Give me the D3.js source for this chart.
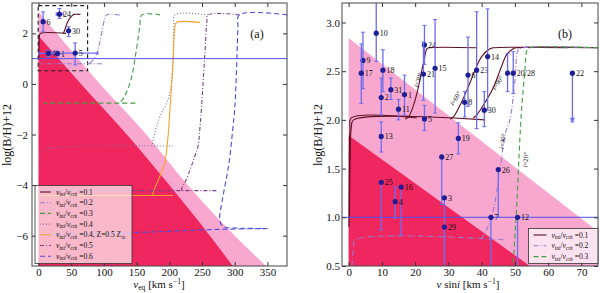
<!DOCTYPE html>
<html>
<head>
<meta charset="utf-8">
<script src="https://cdn.jsdelivr.net/npm/d3@7"></script>
<style>
  body { margin: 0; background: #fff; }
  svg { display: block; }
  text { font-family: "Liberation Serif", "DejaVu Serif", serif; fill: #111; }
</style>
</head>
<body>
<svg id="chart" width="600" height="293"></svg>
<script>
// ---- panel (a): v_eq vs log(B/H)+12 ----
var aTicksX = [0, 50, 100, 150, 200, 250, 300, 350];
var aTicksY = [-6, -4, -2, 0, 2];
var aDarkEdge = [[0, 1.9], [65, 0], [135, -2], [200, -4], [262, -6], [297, -7.2]];
var aPinkEdge = [[0, 2.85], [94, 0], [165, -2], [228, -4], [300, -6], [348, -7.2]];
var aZoomBox = [[-0.5, 0.52], [75, 3.1]];

var aTrackKeys = ["0.1", "0.2", "0.3", "0.4", "0.4z", "0.5", "0.6"];
var aTrackCurves = [
  [[64, 2.75], [54.5, 2.75], [52, 2.71], [48, 2.6], [44, 2.42], [41, 2.2], [39, 2.06], [38, 2.01]],
  [[124, 2.73], [104, 2.73], [101.5, 2.6], [99.5, 2.4], [94.5, 1.75], [89, 1.2], [82, 0.9], [76, 0.8]],
  [[186, 2.73], [158, 2.73], [155, 2.3], [152.7, 1.87], [147.6, 1.02], [142.6, 0.29], [135, -0.3], [127.4, -0.66], [122, -0.76]],
  [[259, 2.73], [208.5, 2.73], [207, 2.3], [203.5, 0.03], [196, -0.76], [188, -1.15], [180.6, -1.68], [175.5, -2.2], [173, -2.46]],
  [[247, 2.43], [211, 2.43], [208.5, 2.26], [206, 1.02], [201, -1.02], [198.3, -2.0], [196, -2.6], [193, -3.12], [185.7, -3.65], [178, -4.1], [174.6, -4.34], [176, -4.41]],
  [[307, 2.73], [259, 2.73], [257.5, 2.5], [254, 1.02], [249, -1.02], [246.6, -1.8], [244, -2.46], [239, -2.86], [226, -3.78], [218.7, -4.17], [220, -4.22]],
  [[380, 2.73], [307, 2.73], [305, 2.2], [303.4, 1.02], [300, -1.02], [297, -1.8], [292, -3.0], [287, -3.78], [281, -4.6], [277, -5.35], [280, -5.58], [288, -5.68], [300, -5.7], [350, -5.72]]
];
var aTrackBases = [
  [[42, 2.0], [3, 2.0], [1.5, 1.92], [0.8, 1.5], [0.5, 1.0]],
  [[97, 0.8], [3, 0.8]],
  [[148, -0.76], [8, -0.76]],
  [[205, -2.46], [5, -2.62], [2, -2.8], [1.5, -3.5]],
  [[206, -4.41], [0, -4.41]],
  [[272, -4.22], [2, -4.22]],
  [[350, -5.72], [277, -5.75], [155, -5.87], [0, -5.97]]
];

var aStarNames = ["6", "24", "30", "4", "1", "5"];
var aStarV = [7, 32, 46, 15, 29, 56];
var aStarB = [2.46, 2.76, 2.1, 1.21, 1.2, 1.22];
var aStarBLo = [2.06, 2.59, 1.87, 1.08, 1.1, 0.75];
var aStarBHi = [2.85, 2.98, 2.26, 1.34, 1.3, 1.62];
var aStarVLo = [7, 27, 46, 0, 20, 38];
var aStarVHi = [7, 38, 46, 22, 38, 91];

// ---- panel (b): v sin i vs log(B/H)+12 ----
var bTicksX = [0, 10, 20, 30, 40, 50, 60, 70];
var bTicksY = [0.5, 1.0, 1.5, 2.0, 2.5, 3.0];
var bDarkEdge = [[0, 1.84], [54.5, 0.5]];
var bPinkEdge = [[0, 2.84], [75, 0.855]];

var bCurveKeys = ["0.1", "0.1", "0.1", "0.1", "0.1", "0.2", "0.2", "0.3"];
var bCurves = [
  [[75, 2.74], [50.5, 2.74], [49.5, 2.73], [47.5, 2.67], [46, 2.55], [43.5, 2.33], [40.5, 2.15], [38.5, 2.05], [37.5, 2.02]],
  [[66, 2.74], [43.5, 2.74], [42.5, 2.73], [40, 2.65], [38, 2.51], [36, 2.34], [33.5, 2.15], [31.5, 2.03], [30.5, 2.01]],
  [[38.5, 2.74], [24.2, 2.74], [23.5, 2.73], [22.7, 2.61], [22, 2.51], [21, 2.34], [19.7, 2.17], [18, 2.03], [17, 2.01]],
  [[41, 2.0], [1.5, 2.0], [0.8, 1.92], [0.45, 1.6], [0.25, 1.0]],
  [[20.5, 2.02], [0.8, 2.02], [0.4, 1.9], [0.2, 1.4], [0.1, 0.9]],
  [[75, 2.74], [52, 2.74], [51, 2.72], [50, 2.4], [48.5, 2.0], [47, 1.85], [45.5, 1.48], [43, 1.0], [41, 0.84], [40, 0.78]],
  [[46.5, 0.77], [2, 0.77], [1.5, 0.7], [1, 0.5]],
  [[75, 2.74], [54.5, 2.74], [53.7, 2.72], [53, 2.5], [52, 2.1], [51.5, 1.8], [50.5, 1.08], [49.9, 0.75], [49.5, 0.5]]
];
var bIncText = ["30", "60", "90", "30", "20"];
var bIncAt = [[21, 2.41], [32.2, 2.22], [44.9, 2.38], [46.4, 1.78], [53.3, 1.59]];
var bIncRot = [-72, -58, -58, -80, -85];

var bStarNames = ["10", "9", "17", "18", "2", "31", "1", "11", "24", "21", "15", "5", "13", "19", "6", "8", "23", "14", "30", "", "20/28", "22", "27", "25", "16", "4", "3", "29", "26", "7", "12"];
var bStarV = [8.3, 4.3, 3.8, 10.3, 9.8, 12.7, 16.8, 15, 22.8, 22.5, 26, 22.8, 9.8, 33, 35.9, 34.9, 38.5, 41.8, 40.8, 47.8, 49.5, 67.3, 28, 9.8, 15.8, 14, 28.8, 28.8, 45, 42.8, 50.8];
var bStarB = [2.89, 2.61, 2.48, 2.51, 2.23, 2.31, 2.26, 2.11, 2.77, 2.47, 2.53, 2.01, 1.83, 1.81, 2.46, 2.18, 2.51, 2.65, 2.10, 2.48, 2.48, 2.48, 1.62, 1.36, 1.31, 1.16, 1.20, 0.90, 1.49, 1.00, 1.00];
var bStarLo = [2.60, 2.32, 2.17, 2.29, 2.05, 2.21, 2.05, 2.00, 2.57, 2.20, 2.07, 1.89, 1.67, 1.65, 2.14, 2.03, 1.91, 2.10, 1.93, 2.29, 2.27, 1.98, 1.13, 0.87, 0.82, 0.99, 0.3, 0.3, 1.0, 0.3, 0.3];
var bStarHi = [3.30, 2.90, 2.78, 2.72, 2.43, 2.43, 2.46, 2.21, 2.97, 2.80, 3.03, 2.15, 1.98, 1.97, 2.85, 2.29, 3.11, 3.14, 2.29, 2.68, 2.70, 2.48, 1.62, 1.36, 1.31, 1.31, 1.20, 0.90, 1.49, 1.00, 1.00];
var bUpperLimit = ["22"];

var trackStyle = {
  "0.1": { color: "#5e1024", dash: null, label: "0.1" },
  "0.2": { color: "#9a7ad0", dash: "5,2,1,2", label: "0.2" },
  "0.3": { color: "#3f9e3f", dash: "5,3", label: "0.3" },
  "0.4": { color: "#8a6a9e", dash: "1,2", label: "0.4" },
  "0.4z": { color: "#f4a32a", dash: null, label: "0.4, Z=0.5 Z" },
  "0.5": { color: "#7d3d8c", dash: "4,2,1,2", label: "0.5" },
  "0.6": { color: "#4b4bd8", dash: "5,3", label: "0.6" }
};

var darkFill = "#f0265e", pinkFill = "#f8a8cf";
var barColor = "#6c6cf0", dotColor = "#1e1e96", refColor = "#5050ea";

var svg = d3.select("#chart");
var defs = svg.append("defs");

var ax = d3.scaleLinear().domain([-10, 380]).range([32, 287]);
var ay = d3.scaleLinear().domain([-7.2, 3.2]).range([266, 3]);
var bx = d3.scaleLinear().domain([-2, 75]).range([342, 598]);
var by = d3.scaleLinear().domain([0.5, 3.2]).range([266, 3]);

function clipFor(id, x, y) {
  defs.append("clipPath").attr("id", id).append("rect")
    .attr("x", x.range()[0]).attr("y", y.range()[1])
    .attr("width", x.range()[1] - x.range()[0])
    .attr("height", y.range()[0] - y.range()[1]);
  return svg.append("g").attr("clip-path", "url(#" + id + ")");
}

function rich(g, parts, size) {
  var t = g.append("text").attr("font-size", size);
  var shift = 0;
  parts.forEach(function(p) {
    var s = t.append("tspan").text(p[0]);
    var want = p[1] == "sub" ? size * 0.22 : p[1] == "sup" ? -size * 0.33 : 0;
    if (want != shift) s.attr("dy", want - shift);
    shift = want;
    if (p[1] == "sub" || p[1] == "sup") s.attr("font-size", size * 0.7);
    if (p[1] == "i") s.attr("font-style", "italic");
  });
  return t;
}

function shade(g, x, y, edge, fill) {
  var area = d3.area()
    .x(function(d) { return x(d[0]); })
    .y0(y.range()[0] + 2)
    .y1(function(d) { return y(d[1]); })
    .curve(d3.curveMonotoneX);
  g.append("path").datum(edge.slice().sort(function(a, b) { return a[0] - b[0]; }))
    .attr("d", area).attr("fill", fill);
}

function track(g, x, y, pts, key) {
  var st = trackStyle[key];
  var line = d3.line()
    .x(function(d) { return x(d[0]); })
    .y(function(d) { return y(d[1]); })
    .curve(d3.curveCatmullRom.alpha(0.5));
  g.append("path").datum(pts).attr("d", line)
    .attr("fill", "none").attr("stroke", st.color).attr("stroke-width", 1.1)
    .attr("stroke-dasharray", st.dash);
}

function stars(g, x, y, names, v, b, lo, hi, vlo, vhi) {
  names.forEach(function(n, i) {
    var cx = x(v[i]), cy = y(b[i]);
    g.append("line").attr("x1", cx).attr("x2", cx).attr("y1", y(lo[i])).attr("y2", y(hi[i]))
      .attr("stroke", barColor).attr("stroke-width", 1.3);
    [lo[i], hi[i]].forEach(function(e) {
      if (e == b[i]) return;
      g.append("line").attr("x1", cx - 2).attr("x2", cx + 2).attr("y1", y(e)).attr("y2", y(e))
        .attr("stroke", barColor).attr("stroke-width", 1);
    });
    if (vlo && vlo[i] != vhi[i]) {
      g.append("line").attr("x1", x(vlo[i])).attr("x2", x(vhi[i])).attr("y1", cy).attr("y2", cy)
        .attr("stroke", barColor).attr("stroke-width", 1.3);
      [vlo[i], vhi[i]].forEach(function(e) {
        g.append("line").attr("x1", x(e)).attr("x2", x(e)).attr("y1", cy - 2).attr("y2", cy + 2)
          .attr("stroke", barColor).attr("stroke-width", 1);
      });
    }
    if (bUpperLimit.indexOf(n) >= 0 && !vlo) {
      var ey = y(lo[i]);
      g.append("path").attr("d", "M" + (cx - 2.5) + "," + (ey - 4) + "L" + (cx + 2.5) + "," + (ey - 4) + "L" + cx + "," + (ey + 1) + "Z")
        .attr("fill", barColor);
    }
    g.append("circle").attr("cx", cx).attr("cy", cy).attr("r", 2.6).attr("fill", dotColor);
    if (n) g.append("text").attr("x", cx + 3.5).attr("y", cy + 3).attr("font-size", 8).attr("fill", "#222").text(n);
  });
}

function axes(x, y, xt, yt, fmtY, padY) {
  var g = svg.append("g");
  var x0 = x.range()[0], x1 = x.range()[1], y0 = y.range()[0], y1 = y.range()[1];
  g.append("g").attr("transform", "translate(0," + y0 + ")")
    .call(d3.axisBottom(x).tickValues(xt).tickSize(-4).tickPadding(2));
  g.append("g").attr("transform", "translate(0," + y1 + ")")
    .call(d3.axisTop(x).tickValues(xt).tickSize(-4).tickFormat(""));
  g.append("g").attr("transform", "translate(" + x0 + ",0)")
    .call(d3.axisLeft(y).tickValues(yt).tickSize(-4).tickPadding(padY).tickFormat(fmtY));
  g.append("g").attr("transform", "translate(" + x1 + ",0)")
    .call(d3.axisRight(y).tickValues(yt).tickSize(-4).tickFormat(""));
  g.selectAll(".domain").remove();
  g.selectAll(".tick line").attr("stroke", "#333");
  g.selectAll(".tick text").attr("font-size", 11).attr("fill", "#111")
    .attr("font-family", "Liberation Serif, DejaVu Serif, serif");
  g.append("rect").attr("x", x0).attr("y", y1).attr("width", x1 - x0).attr("height", y0 - y1)
    .attr("fill", "none").attr("stroke", "#444").attr("stroke-width", 1);
}

function legend(x0, y0, w, h, keys, rowH, sample) {
  var g = svg.append("g");
  g.append("rect").attr("x", x0).attr("y", y0).attr("width", w).attr("height", h)
    .attr("fill", "#fff").attr("fill-opacity", 0.68).attr("stroke", "#333").attr("stroke-width", 0.8);
  keys.forEach(function(k, i) {
    var st = trackStyle[k], yy = y0 + 6.5 + i * rowH;
    g.append("line").attr("x1", x0 + 5).attr("x2", x0 + 5 + sample).attr("y1", yy).attr("y2", yy)
      .attr("stroke", st.color).attr("stroke-width", 1.1).attr("stroke-dasharray", st.dash);
    var parts = [["v", "i"], ["ini", "sub"], ["/", ""], ["v", "i"], ["crit", "sub"], [" =" + st.label, ""]];
    if (k == "0.4z") parts.push(["\u2299", "sub"]);
    rich(g, parts, 7.5).attr("x", x0 + 10 + sample).attr("y", yy + 2.5);
  });
}

// ---- draw (a) ----
var ga = clipFor("clipA", ax, ay);
shade(ga, ax, ay, aPinkEdge, pinkFill);
shade(ga, ax, ay, aDarkEdge, darkFill);
ga.append("rect").attr("x", ax(aZoomBox[0][0])).attr("y", ay(aZoomBox[1][1]))
  .attr("width", ax(aZoomBox[1][0]) - ax(aZoomBox[0][0]))
  .attr("height", ay(aZoomBox[0][1]) - ay(aZoomBox[1][1]))
  .attr("fill", "none").attr("stroke", "#222").attr("stroke-width", 1.2).attr("stroke-dasharray", "4,3");
aTrackKeys.forEach(function(k, i) {
  track(ga, ax, ay, aTrackBases[i], k);
  track(ga, ax, ay, aTrackCurves[i], k);
});
ga.append("line").attr("x1", ax.range()[0]).attr("x2", ax.range()[1]).attr("y1", ay(1)).attr("y2", ay(1))
  .attr("stroke", refColor).attr("stroke-width", 1);
stars(ga, ax, ay, aStarNames, aStarV, aStarB, aStarBLo, aStarBHi, aStarVLo, aStarVHi);
ga.append("text").attr("x", 257).attr("y", 37.5).attr("font-size", 12).attr("text-anchor", "middle").text("(a)");

// ---- draw (b) ----
var gb = clipFor("clipB", bx, by);
shade(gb, bx, by, bPinkEdge, pinkFill);
shade(gb, bx, by, bDarkEdge, darkFill);
bCurves.forEach(function(c, i) { track(gb, bx, by, c, bCurveKeys[i]); });
gb.append("line").attr("x1", bx.range()[0]).attr("x2", bx.range()[1]).attr("y1", by(1)).attr("y2", by(1))
  .attr("stroke", refColor).attr("stroke-width", 1);
bIncText.forEach(function(t, i) {
  var px = bx(bIncAt[i][0]), py = by(bIncAt[i][1]);
  rich(gb, [["i", "i"], ["=" + t + "\u00b0", ""]], 6.8)
    .attr("text-anchor", "middle")
    .attr("transform", "translate(" + px + "," + py + ") rotate(" + bIncRot[i] + ")")
    .attr("y", 2);
});
stars(gb, bx, by, bStarNames, bStarV, bStarB, bStarLo, bStarHi, null, null);
gb.append("text").attr("x", 565).attr("y", 37.5).attr("font-size", 12).attr("text-anchor", "middle").text("(b)");

// ---- axes, labels, legends ----
axes(ax, ay, aTicksX, aTicksY, function(d) { return d < 0 ? "\u2212" + (-d) : d; }, 4);
axes(bx, by, bTicksX, bTicksY, d3.format(".1f"), 2);

svg.append("text").attr("transform", "translate(11,135) rotate(-90)").attr("text-anchor", "middle")
  .attr("font-size", 12).text("log(B/H)+12");
svg.append("text").attr("transform", "translate(322,135) rotate(-90)").attr("text-anchor", "middle")
  .attr("font-size", 12).text("log(B/H)+12");
rich(svg, [["v", "i"], ["eq", "sub"], [" [km s", ""], ["\u22121", "sup"], ["]", ""]], 11)
  .attr("x", 159).attr("y", 288).attr("text-anchor", "middle");
rich(svg, [["v", "i"], [" sin", ""], ["i", "i"], [" [km s", ""], ["\u22121", "sup"], ["]", ""]], 11)
  .attr("x", 468).attr("y", 288).attr("text-anchor", "middle");

legend(35, 185.5, 97, 78, aTrackKeys, 10.7, 11);
legend(528.5, 228.5, 69.5, 35, ["0.1", "0.2", "0.3"], 10.8, 13);
</script>
</body>
</html>
